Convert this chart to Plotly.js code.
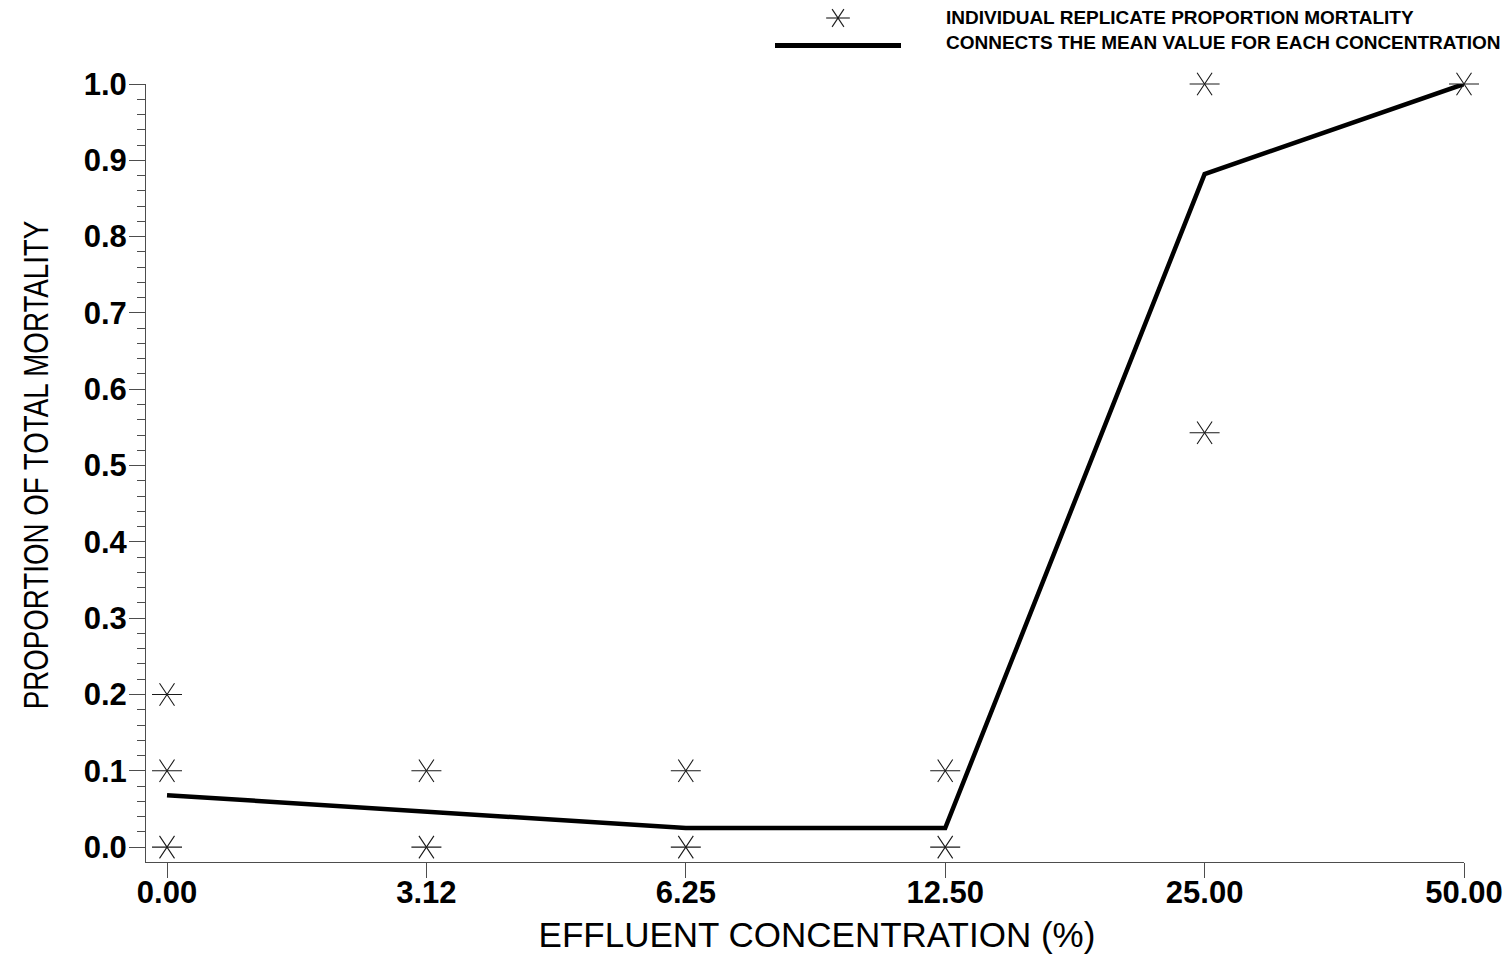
<!DOCTYPE html>
<html>
<head>
<meta charset="utf-8">
<script src="https://cdn.plot.ly/plotly-3.0.1.min.js"></script>
<style>
  html, body { margin: 0; padding: 0; background: #ffffff; }
  #chart { width: 1510px; height: 954px; }
</style>
</head>
<body>
<div id="chart"></div>
<script>
// ---- data ----
const concentrations = ['0.00', '3.12', '6.25', '12.50', '25.00', '50.00'];
const meanMortality = [0.068, 0.046, 0.025, 0.025, 0.882, 1.0];
const replicateConc = ['0.00', '0.00', '0.00', '3.12', '3.12', '6.25', '6.25', '12.50', '12.50', '25.00', '25.00', '50.00'];
const replicateMortality = [0.2, 0.1, 0.0, 0.1, 0.0, 0.1, 0.0, 0.1, 0.0, 1.0, 0.543, 1.0];
const yTickValues = [0, 0.1, 0.2, 0.3, 0.4, 0.5, 0.6, 0.7, 0.8, 0.9, 1.0];
const legendLabels = ['INDIVIDUAL REPLICATE PROPORTION MORTALITY', 'CONNECTS THE MEAN VALUE FOR EACH CONCENTRATION'];
const xTitle = 'EFFLUENT CONCENTRATION (%)';
const yTitle = 'PROPORTION OF TOTAL MORTALITY';

const axisColor = '#4d4d4d';
const markColor = '#1a1a1a';
const baseFont = 'Liberation Sans, Arial, Helvetica, sans-serif';

function starTrace(symbol) {
  return {
    type: 'scatter', mode: 'markers',
    x: replicateConc, y: replicateMortality,
    showlegend: false, cliponaxis: false, hoverinfo: 'skip',
    marker: { symbol: symbol, size: 18.75, angle: 90, color: markColor,
              line: { color: markColor, width: 1.1 } }
  };
}

const traces = [
  {
    type: 'scatter', mode: 'lines',
    x: concentrations, y: meanMortality,
    name: legendLabels[1], showlegend: false, cliponaxis: false,
    line: { color: '#000000', width: 4.5 }
  },
  starTrace('y-up-open'),
  starTrace('y-down-open')
];

// legend drawn as paper-anchored key with pixel-sized glyphs
const keyX = (838 - 146) / 1318;
const keyY1 = (862 - 18) / 778;
const keyY2 = (862 - 45) / 778;
const textX = (944 - 146) / 1318;
const textY2 = (862 - 43) / 778;
const r = 7.4;
const keyShapes = [
  { x0: -1.6 * r, x1: 1.6 * r, y0: 0, y1: 0 },
  { x0: -0.8 * r, x1: 0.8 * r, y0: -1.2 * r, y1: 1.2 * r },
  { x0: -0.8 * r, x1: 0.8 * r, y0: 1.2 * r, y1: -1.2 * r }
].map(s => Object.assign({
  type: 'line', xref: 'paper', yref: 'paper',
  xsizemode: 'pixel', ysizemode: 'pixel', xanchor: keyX, yanchor: keyY1,
  line: { color: markColor, width: 1.1 }
}, s));
keyShapes.push({
  type: 'line', xref: 'paper', yref: 'paper',
  xsizemode: 'pixel', ysizemode: 'pixel', xanchor: keyX, yanchor: keyY2,
  x0: -63, x1: 63, y0: -0.5, y1: -0.5,
  line: { color: '#000000', width: 5 }
});

const layout = {
  width: 1510, height: 954,
  paper_bgcolor: '#ffffff', plot_bgcolor: '#ffffff',
  margin: { l: 146, r: 46, t: 84, b: 92 },
  showlegend: false,
  font: { family: baseFont, color: '#000000' },
  xaxis: {
    type: 'category',
    range: [-0.081, 5],
    showgrid: false, zeroline: false,
    showline: true, linecolor: axisColor, linewidth: 1,
    ticks: 'outside', ticklen: 15, tickwidth: 1, tickcolor: axisColor,
    ticklabelstandoff: -12,
    tickfont: { family: baseFont, size: 31, color: '#000000', weight: 'bold' },
    title: { text: xTitle, standoff: 16,
             font: { family: baseFont, size: 35, color: '#000000' } }
  },
  yaxis: {
    range: [-0.0195, 1.0],
    tickvals: yTickValues, tickformat: '.1f',
    showgrid: false, zeroline: false,
    showline: true, linecolor: axisColor, linewidth: 1,
    ticks: 'outside', ticklen: 16, tickwidth: 1, tickcolor: axisColor,
    ticklabelstandoff: -4,
    minor: { dtick: 0.02, tick0: 0, ticks: 'outside', ticklen: 8, tickwidth: 1, tickcolor: axisColor, showgrid: false },
    tickfont: { family: baseFont, size: 31, color: '#000000', weight: 'bold' },
    title: { text: yTitle, standoff: 22,
             font: { family: baseFont, size: 36, color: '#000000' } }
  },
  shapes: keyShapes,
  annotations: [
    { xref: 'paper', yref: 'paper', x: textX, y: keyY1, xanchor: 'left', yanchor: 'middle',
      text: legendLabels[0], showarrow: false,
      font: { family: baseFont, size: 19, color: '#000000', weight: 'bold' } },
    { xref: 'paper', yref: 'paper', x: textX, y: textY2, xanchor: 'left', yanchor: 'middle',
      text: legendLabels[1], showarrow: false,
      font: { family: baseFont, size: 19, color: '#000000', weight: 'bold' } }
  ]
};

Plotly.newPlot('chart', traces, layout, { displayModeBar: false, staticPlot: true }).then(function () {
  // the reference uses a condensed face for the vertical title: compress it along its baseline
  const t = document.querySelector('.g-ytitle text');
  if (t) {
    const x = parseFloat(t.getAttribute('x'));
    const y = parseFloat(t.getAttribute('y'));
    t.setAttribute('transform',
      'translate(-2,-8) rotate(-90,' + x + ',' + y + ') translate(' + x + ',' + y + ') scale(0.77,1) translate(' + (-x) + ',' + (-y) + ')');
  }
  // the reference's horizontal title sits a little right of the plot centre
  const xt = document.querySelector('.g-xtitle text');
  if (xt) {
    const prev = xt.getAttribute('transform') || '';
    xt.setAttribute('transform', 'translate(12,0) ' + prev);
  }
});
</script>
</body>
</html>
